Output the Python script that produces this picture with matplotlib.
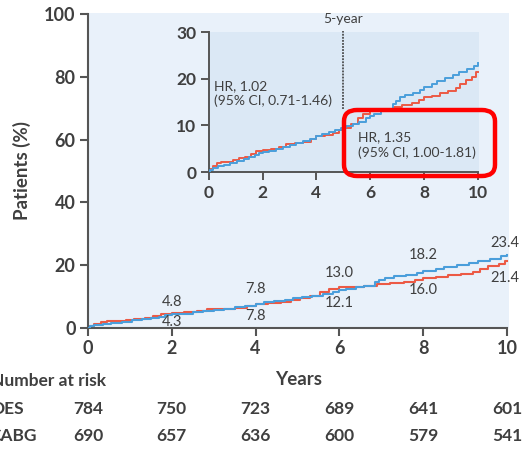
import numpy as np
import matplotlib.pyplot as plt
from matplotlib.patches import FancyBboxPatch

# Cumulative event curves (%), step knots per arm
des_t = [0, 0.05, 0.15, 0.35, 0.55, 0.8, 1.05, 1.3, 1.5, 1.7, 1.85, 2.0, 2.25, 2.5,
         2.75, 3.0, 3.25, 3.5, 3.75, 4.0, 4.2, 4.45, 4.7, 4.9, 5.1, 5.35, 5.6, 5.85,
         6.0, 6.15, 6.4, 6.6, 6.85, 6.95, 7.1, 7.3, 7.6, 7.85, 8.0, 8.3, 8.5, 8.8,
         9.1, 9.3, 9.6, 9.85, 10.0]
des_y = [0, 0.5, 0.9, 1.3, 1.6, 2.0, 2.4, 2.8, 3.2, 3.6, 4.0, 4.3, 4.6, 5.0,
         5.4, 5.8, 6.2, 6.6, 7.1, 7.8, 8.2, 8.6, 9.0, 9.5, 9.9, 10.3, 10.8, 11.5,
         12.1, 12.5, 13.0, 13.5, 14.6, 15.2, 16.0, 16.5, 16.9, 17.5, 18.2, 18.8, 19.5, 20.1,
         20.8, 21.4, 22.1, 22.8, 23.4]

cabg_t = [0, 0.05, 0.15, 0.3, 0.45, 0.9, 1.1, 1.35, 1.55, 1.75, 2.0, 2.3, 2.6, 2.85,
          3.2, 3.5, 3.8, 4.0, 4.3, 4.6, 4.85, 5.05, 5.3, 5.55, 5.75, 6.0, 6.3, 6.6,
          6.9, 7.2, 7.55, 7.8, 8.0, 8.3, 8.6, 8.9, 9.2, 9.35, 9.55, 9.8, 9.95, 10.0]
cabg_y = [0, 0.7, 1.3, 1.9, 2.2, 2.5, 2.9, 3.3, 3.8, 4.4, 4.8, 5.0, 5.4, 5.9,
          6.2, 6.5, 7.0, 7.8, 8.0, 8.3, 8.9, 9.4, 10.3, 11.5, 12.4, 13.0, 13.2, 13.5,
          14.0, 14.3, 14.8, 15.4, 16.0, 16.3, 16.9, 17.3, 17.9, 18.9, 19.8, 20.4, 21.4, 21.4]

years = [0, 2, 4, 6, 8, 10]
risk_des = [784, 750, 723, 689, 641, 601]
risk_cabg = [690, 657, 636, 600, 579, 541]

# labelled values and their pixel offsets from the curve
lab_t = [2, 2, 4, 4, 6, 6, 8, 8, 10, 10]
lab_v = [4.8, 4.3, 7.8, 7.8, 13.0, 12.1, 18.2, 16.0, 23.4, 21.4]
lab_dy = [11, -8, 15, -12, 14, -13, 16, -12, 12, -17]

blue = '#4a9edb'
red = '#ec5a45'
txt = '#3f3f3f'
ax_col = '#555555'

plt.rcParams['font.family'] = ['Lato', 'DejaVu Sans']

fig = plt.figure(figsize=(5.24, 4.49), dpi=100)

# main panel
ax = fig.add_axes([88/524, 1-328/449, 421/524, 315/449])
ax.set_facecolor('#e9f1fa')
ax.step(des_t, des_y, where='post', color=blue, lw=1.5, zorder=3)
ax.step(cabg_t, cabg_y, where='post', color=red, lw=1.5, zorder=2)
ax.set_xlim(0, 10.05)
ax.set_ylim(0, 100.3)
ax.set_xticks(years)
ax.set_yticks([0, 20, 40, 60, 80, 100])
for s in ['top', 'right']:
    ax.spines[s].set_visible(False)
for s in ['left', 'bottom']:
    ax.spines[s].set_color(ax_col)
    ax.spines[s].set_linewidth(1.5)
ax.spines['bottom'].set_bounds(0, 10)
ax.spines['left'].set_bounds(0, 100)
ax.tick_params(colors=ax_col, width=1.5, length=6, labelsize=13, labelcolor=txt, pad=3)
for lab in ax.get_xticklabels() + ax.get_yticklabels():
    lab.set_fontweight('bold')
ax.set_ylabel('Patients (%)', fontsize=13.5, fontweight='bold', color=txt, labelpad=9)
ax.set_xlabel('Years', fontsize=13.5, fontweight='bold', color=txt, labelpad=10)

for t, v, dy in zip(lab_t, lab_v, lab_dy):
    ha = 'center' if t < 10 else 'right'
    dx = 0 if t < 10 else 12
    ax.annotate(f'{v:.1f}', (t, v), xytext=(dx, dy), textcoords='offset pixels',
                ha=ha, va='center', fontsize=10.5, color=txt, zorder=5)

# number at risk table
fig.text(-9/524, 1-381/449, 'Number at risk', fontsize=12.5, color=txt, va='center',
         fontweight='bold')
fig.text(-8/524, 1-409/449, 'DES', fontsize=12.5, color=txt, va='center', fontweight='bold')
fig.text(-11/524, 1-436/449, 'CABG', fontsize=12.5, color=txt, va='center', fontweight='bold')
for x, a, b in zip(years, risk_des, risk_cabg):
    fx = (88 + x * 41.9) / 524
    fig.text(fx, 1-409/449, str(a), fontsize=12.5, color=txt, ha='center', va='center',
             fontweight='bold')
    fig.text(fx, 1-436/449, str(b), fontsize=12.5, color=txt, ha='center', va='center',
             fontweight='bold')

# inset panel
ins = fig.add_axes([209/524, 1-172/449, 270/524, 140/449])
ins.set_facecolor('#dbe8f5')
ins.step(des_t, des_y, where='post', color=blue, lw=1.4, zorder=3)
ins.step(cabg_t, cabg_y, where='post', color=red, lw=1.4, zorder=2)
ins.set_xlim(0, 10.05)
ins.set_ylim(0, 30)
ins.set_xticks(years)
ins.set_yticks([0, 10, 20, 30])
for s in ['top', 'right']:
    ins.spines[s].set_visible(False)
for s in ['left', 'bottom']:
    ins.spines[s].set_color(ax_col)
    ins.spines[s].set_linewidth(1.4)
ins.spines['bottom'].set_bounds(0, 10)
ins.tick_params(colors=ax_col, width=1.4, length=6, labelsize=12.5, labelcolor=txt, pad=3)
for lab in ins.get_xticklabels() + ins.get_yticklabels():
    lab.set_fontweight('bold')
ins.plot([5, 5], [13.4, 30.3], color='#333333', lw=1.1, ls=(0, (1.2, 0.8)), clip_on=False)
ins.text(5, 31.5, '5-year', ha='center', va='bottom', fontsize=10, color=txt)
ins.text(0.2, 16.8, 'HR, 1.02\n(95% CI, 0.71-1.46)', ha='left', va='center',
         fontsize=10, color=txt, linespacing=1.3)
ins.text(5.54, 5.7, 'HR, 1.35\n(95% CI, 1.00-1.81)', ha='left', va='center',
         fontsize=10, color=txt, linespacing=1.3, zorder=6)

box = FancyBboxPatch((344/524, 1-176/449), 151/524, 66/449,
                     boxstyle='round,pad=0,rounding_size=0.025',
                     transform=fig.transFigure, fill=False, ec='#ff0000', lw=3.2, zorder=10)
fig.patches.append(box)

fig.savefig('out.png', dpi=100)
